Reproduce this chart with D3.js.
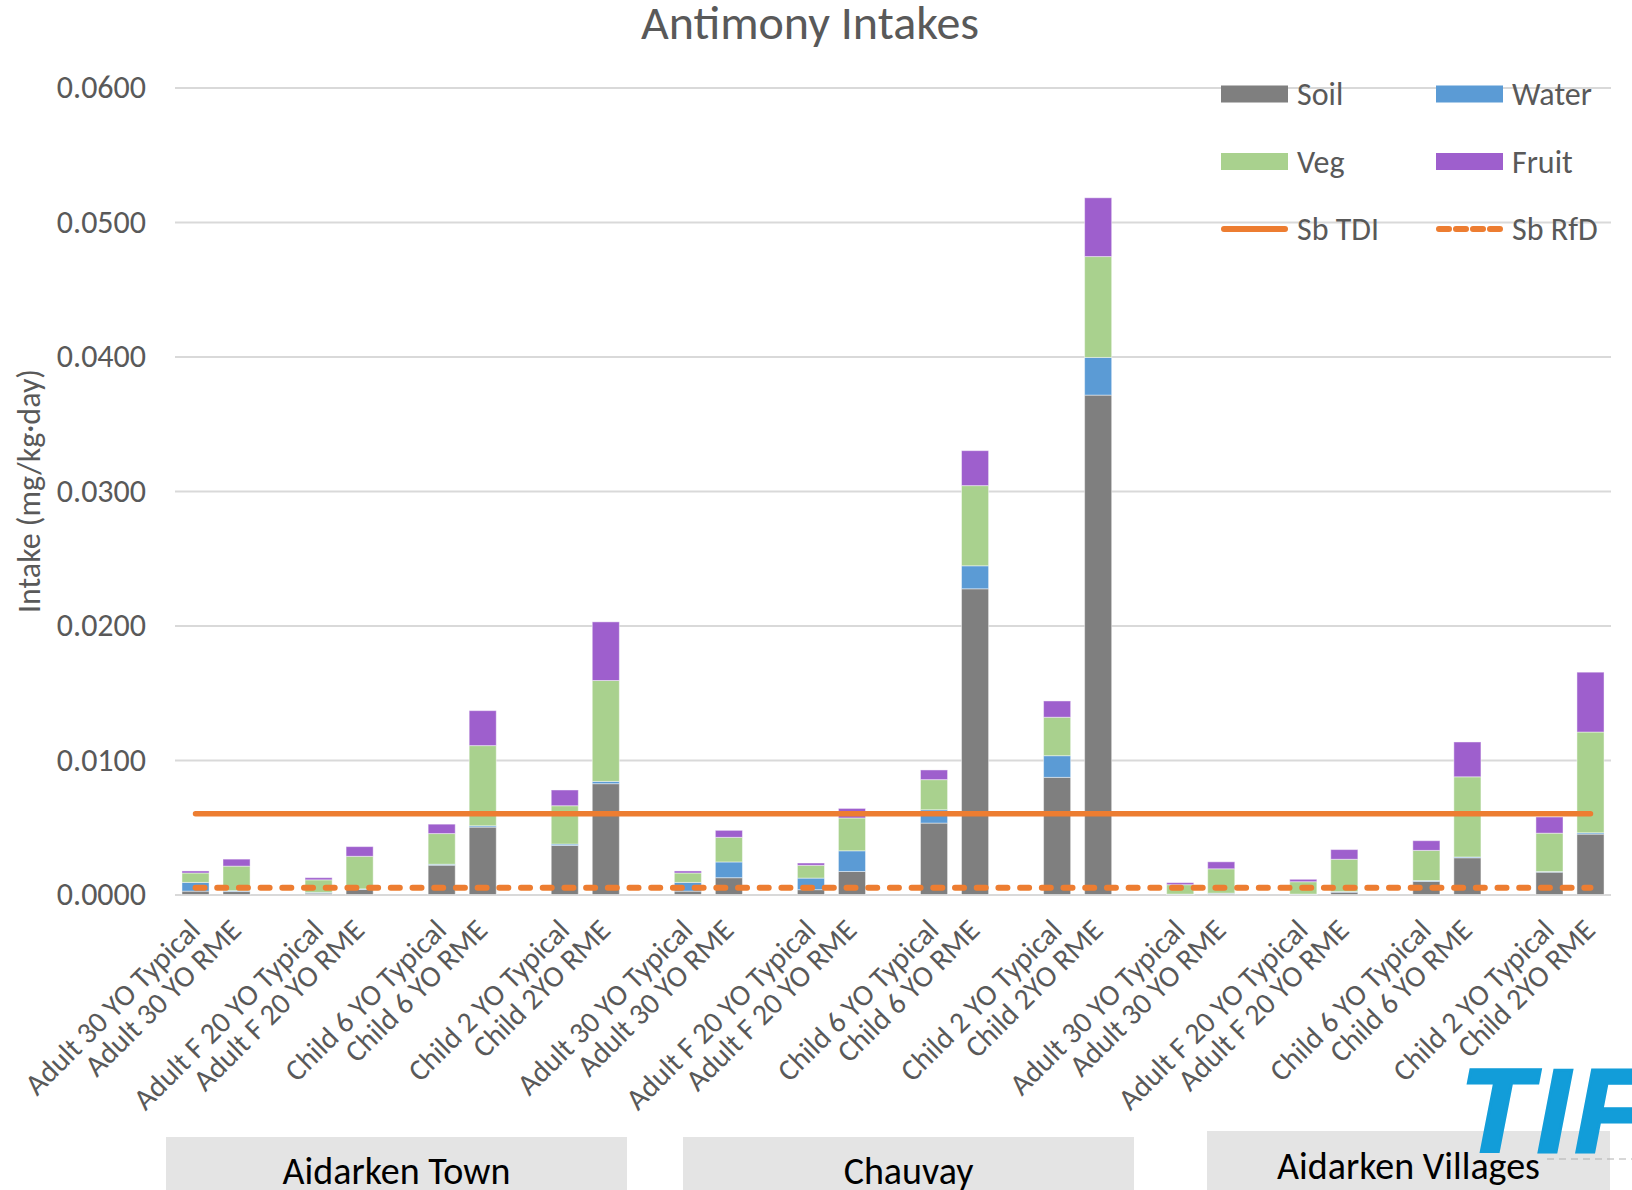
<!DOCTYPE html>
<html>
<head>
<meta charset="UTF-8">
<script src="https://d3js.org/d3.v7.min.js"></script>
<style>
  body { margin: 0; background: #fff; }
  text { font-family: Carlito, Calibri, "Liberation Sans", Arial, sans-serif; }
</style>
</head>
<body>
<script>
  // categories, with empty slots between the pairs of bars
  var categories = [
    "Adult 30 YO Typical", "Adult 30 YO RME", "",
    "Adult F 20 YO Typical", "Adult F 20 YO RME", "",
    "Child 6 YO Typical", "Child 6 YO RME", "",
    "Child 2 YO Typical", "Child 2YO RME", "",
    "Adult 30 YO Typical", "Adult 30 YO RME", "",
    "Adult F 20 YO Typical", "Adult F 20 YO RME", "",
    "Child 6 YO Typical", "Child 6 YO RME", "",
    "Child 2 YO Typical", "Child 2YO RME", "",
    "Adult 30 YO Typical", "Adult 30 YO RME", "",
    "Adult F 20 YO Typical", "Adult F 20 YO RME", "",
    "Child 6 YO Typical", "Child 6 YO RME", "",
    "Child 2 YO Typical", "Child 2YO RME"
  ];

  // series values (mg/kg·day), null in the empty slots
  var soil = [
    0.00025, 0.00022, null, 0.00010, 0.00037, null, 0.00218, 0.00501, null, 0.00365, 0.00824, null,
    0.00025, 0.00125, null, 0.00036, 0.00171, null, 0.00531, 0.02273, null, 0.00871, 0.03713, null,
    0.00002, 0.00007, null, 0.00002, 0.00017, null, 0.00097, 0.00273, null, 0.00166, 0.00449
  ];
  var water = [
    0.00065, 0.00007, null, 0.00006, 0.00005, null, 0.00007, 0.00010, null, 0.00010, 0.00017, null,
    0.00065, 0.00117, null, 0.00086, 0.00154, null, 0.00099, 0.00171, null, 0.00161, 0.00280, null,
    0.00001, 0.00003, null, 0.00001, 0.00005, null, 0.00007, 0.00006, null, 0.00005, 0.00010
  ];
  var veg = [
    0.00070, 0.00182, null, 0.00093, 0.00242, null, 0.00228, 0.00596, null, 0.00285, 0.00750, null,
    0.00070, 0.00183, null, 0.00095, 0.00244, null, 0.00224, 0.00596, null, 0.00286, 0.00750, null,
    0.00070, 0.00181, null, 0.00092, 0.00240, null, 0.00224, 0.00596, null, 0.00285, 0.00749
  ];
  var fruit = [
    0.00015, 0.00052, null, 0.00016, 0.00072, null, 0.00070, 0.00260, null, 0.00117, 0.00436, null,
    0.00015, 0.00052, null, 0.00017, 0.00071, null, 0.00072, 0.00260, null, 0.00121, 0.00437, null,
    0.00015, 0.00052, null, 0.00018, 0.00072, null, 0.00072, 0.00259, null, 0.00120, 0.00445
  ];

  var sbTDI = 0.006;
  var sbRfD = 0.0005;

  var yTicks = [0, 0.01, 0.02, 0.03, 0.04, 0.05, 0.06];
  var groups = ["Aidarken Town", "Chauvay", "Aidarken Villages"];

  var keys = ["Soil", "Water", "Veg", "Fruit"];
  var colors = { Soil: "#7f7f7f", Water: "#5b9bd5", Veg: "#a9d18e", Fruit: "#9e5fcd" };
  var orange = "#ed7d31";

  var rows = categories.map(function(c, i) {
    return { i: i, Soil: soil[i] || 0, Water: water[i] || 0, Veg: veg[i] || 0, Fruit: fruit[i] || 0, empty: soil[i] === null };
  });

  var width = 1632, height = 1190;
  var svg = d3.select("body").append("svg")
    .attr("width", width)
    .attr("height", height);

  var plotLeft = 175, plotRight = 1611, plotTop = 87.5, plotBottom = 894.5;

  var x = d3.scaleBand()
    .domain(d3.range(categories.length))
    .range([plotLeft, plotRight])
    .paddingInner(0.34)
    .paddingOuter(0.17);

  var y = d3.scaleLinear()
    .domain([0, 0.06])
    .range([plotBottom, plotTop]);

  // title
  svg.append("text")
    .attr("x", 810)
    .attr("y", 39)
    .attr("text-anchor", "middle")
    .attr("fill", "#595959")
    .style("font-size", "48px")
    .text("Antimony Intakes");

  // y axis with gridlines
  var yAxis = svg.append("g")
    .attr("transform", "translate(" + plotLeft + ",0)")
    .call(d3.axisLeft(y)
      .tickValues(yTicks)
      .tickSize(-(plotRight - plotLeft))
      .tickPadding(29)
      .tickFormat(d3.format(".4f")));
  yAxis.select(".domain").remove();
  yAxis.selectAll("line").attr("stroke", "#d9d9d9").attr("stroke-width", 1.8);
  yAxis.selectAll("text")
    .attr("fill", "#595959")
    .style("font-size", "32px");

  svg.append("text")
    .attr("transform", "translate(40,491) rotate(-90)")
    .attr("text-anchor", "middle")
    .attr("fill", "#595959")
    .style("font-size", "32px")
    .text("Intake (mg/kg·day)");

  // stacked bars
  var series = d3.stack().keys(keys)(rows);
  svg.append("g")
    .selectAll("g")
    .data(series)
    .join("g")
    .attr("fill", function(d) { return colors[d.key]; })
    .selectAll("rect")
    .data(function(d) { return d.filter(function(p) { return !p.data.empty; }); })
    .join("rect")
    .attr("x", function(d) { return x(d.data.i); })
    .attr("width", x.bandwidth())
    .attr("y", function(d) { return y(d[1]); })
    .attr("height", function(d) { return y(d[0]) - y(d[1]); })
    .attr("stroke", "#ffffff")
    .attr("stroke-opacity", 0.45)
    .attr("stroke-width", 1);

  // x axis labels
  var xAxis = svg.append("g")
    .attr("transform", "translate(0," + plotBottom + ")")
    .call(d3.axisBottom(x)
      .tickSize(0)
      .tickFormat(function(i) { return categories[i]; }));
  xAxis.select(".domain").remove();
  xAxis.selectAll("text")
    .attr("y", 0)
    .attr("dy", "0.35em")
    .attr("text-anchor", "end")
    .attr("transform", "translate(-1,30) rotate(-45)")
    .attr("fill", "#595959")
    .style("font-size", "30px");

  // reference lines
  var lineAt = function(v) {
    return d3.line()
      .x(function(d) { return x(d.i) + x.bandwidth() / 2; })
      .y(function() { return y(v); })(rows);
  };
  svg.append("path")
    .attr("d", lineAt(sbTDI))
    .attr("fill", "none")
    .attr("stroke", orange)
    .attr("stroke-width", 5.5)
    .attr("stroke-linecap", "round");
  svg.append("path")
    .attr("d", lineAt(sbRfD))
    .attr("fill", "none")
    .attr("stroke", orange)
    .attr("stroke-width", 6)
    .attr("stroke-dasharray", "9 12.7")
    .attr("stroke-linecap", "round");

  // legend
  var legendItems = [
    { name: "Soil", type: "box", col: 0, row: 0 },
    { name: "Water", type: "box", col: 1, row: 0 },
    { name: "Veg", type: "box", col: 0, row: 1 },
    { name: "Fruit", type: "box", col: 1, row: 1 },
    { name: "Sb TDI", type: "solid", col: 0, row: 2 },
    { name: "Sb RfD", type: "dash", col: 1, row: 2 }
  ];
  var legend = svg.append("g").attr("class", "legend");
  legendItems.forEach(function(d) {
    var lx = 1221 + d.col * 215;
    var ly = 94 + d.row * 67.5;
    if (d.type === "box") {
      legend.append("rect")
        .attr("x", lx).attr("y", ly - 8.5)
        .attr("width", 67).attr("height", 17)
        .attr("fill", colors[d.name]);
    } else {
      legend.append("line")
        .attr("x1", lx + 3).attr("x2", lx + 64)
        .attr("y1", ly).attr("y2", ly)
        .attr("stroke", orange)
        .attr("stroke-width", 6)
        .attr("stroke-linecap", "round")
        .attr("stroke-dasharray", d.type === "dash" ? "10 7" : null);
    }
    legend.append("text")
      .attr("x", lx + 76)
      .attr("y", ly)
      .attr("dy", "0.35em")
      .attr("fill", "#595959")
      .style("font-size", "32px")
      .text(d.name);
  });

  // group boxes under the axis
  var boxes = [
    { x0: 166, x1: 627, y0: 1137, ty: 1184 },
    { x0: 683, x1: 1134, y0: 1137, ty: 1184 },
    { x0: 1207, x1: 1610, y0: 1131, ty: 1179 }
  ];
  boxes.forEach(function(b, i) {
    svg.append("rect")
      .attr("x", b.x0).attr("y", b.y0)
      .attr("width", b.x1 - b.x0).attr("height", height - b.y0)
      .attr("fill", "#e4e4e4");
    svg.append("text")
      .attr("x", (b.x0 + b.x1) / 2)
      .attr("y", b.ty)
      .attr("text-anchor", "middle")
      .attr("fill", "#000")
      .style("font-size", "38px")
      .text(groups[i]);
  });

  // logo
  svg.append("text")
    .attr("x", 1460)
    .attr("y", 1152)
    .attr("fill", "#129dd9")
    .attr("stroke", "#129dd9")
    .attr("stroke-width", 3)
    .style("font-family", "'Liberation Sans', Arial, sans-serif")
    .style("font-size", "118px")
    .style("font-weight", "bold")
    .style("font-style", "italic")
    .style("letter-spacing", "5px")
    .text("TIF");
  svg.append("line")
    .attr("x1", 1547).attr("x2", 1632)
    .attr("y1", 1159).attr("y2", 1159)
    .attr("stroke", "#b0b0b0")
    .attr("stroke-width", 1)
    .attr("stroke-dasharray", "7 5");
</script>
</body>
</html>
